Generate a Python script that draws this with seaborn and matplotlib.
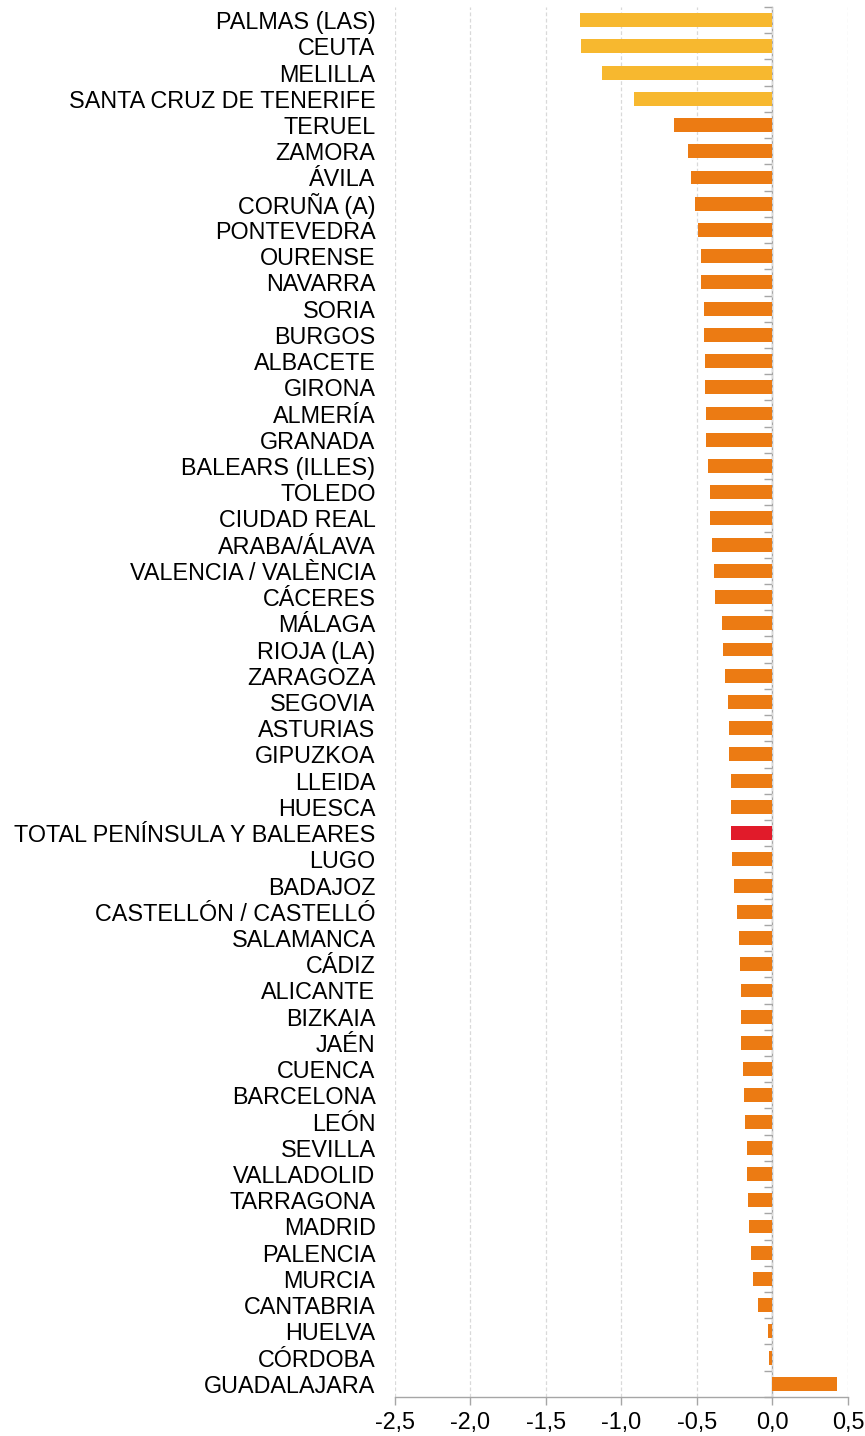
import pandas as pd
import matplotlib
matplotlib.use("Agg")
import matplotlib.pyplot as plt
import matplotlib.ticker as mticker
import seaborn as sns

provincias = [
    "PALMAS (LAS)", "CEUTA", "MELILLA", "SANTA CRUZ DE TENERIFE", "TERUEL",
    "ZAMORA", "ÁVILA", "CORUÑA (A)", "PONTEVEDRA", "OURENSE", "NAVARRA",
    "SORIA", "BURGOS", "ALBACETE", "GIRONA", "ALMERÍA", "GRANADA",
    "BALEARS (ILLES)", "TOLEDO", "CIUDAD REAL", "ARABA/ÁLAVA",
    "VALENCIA / VALÈNCIA", "CÁCERES", "MÁLAGA", "RIOJA (LA)", "ZARAGOZA",
    "SEGOVIA", "ASTURIAS", "GIPUZKOA", "LLEIDA", "HUESCA",
    "TOTAL PENÍNSULA Y BALEARES", "LUGO", "BADAJOZ", "CASTELLÓN / CASTELLÓ",
    "SALAMANCA", "CÁDIZ", "ALICANTE", "BIZKAIA", "JAÉN", "CUENCA",
    "BARCELONA", "LEÓN", "SEVILLA", "VALLADOLID", "TARRAGONA", "MADRID",
    "PALENCIA", "MURCIA", "CANTABRIA", "HUELVA", "CÓRDOBA", "GUADALAJARA",
]

variacion = [
    -1.275, -1.268, -1.129, -0.916, -0.651,
    -0.560, -0.540, -0.511, -0.494, -0.474, -0.474,
    -0.456, -0.456, -0.450, -0.450, -0.437, -0.437,
    -0.426, -0.413, -0.413, -0.400,
    -0.388, -0.379, -0.335, -0.326, -0.311,
    -0.293, -0.287, -0.287, -0.274, -0.276,
    -0.274, -0.265, -0.258, -0.234,
    -0.221, -0.214, -0.210, -0.210, -0.206, -0.197,
    -0.186, -0.179, -0.168, -0.168, -0.161, -0.155,
    -0.144, -0.126, -0.095, -0.029, -0.022, 0.430,
]

extrapeninsular = ["PALMAS (LAS)", "CEUTA", "MELILLA", "SANTA CRUZ DE TENERIFE"]
total = "TOTAL PENÍNSULA Y BALEARES"

colores = {"extra": "#F7B82F", "pen": "#EC7B13", "total": "#E11B2A"}

grupo = []
for p in provincias:
    if p in extrapeninsular:
        grupo.append("extra")
    elif p == total:
        grupo.append("total")
    else:
        grupo.append("pen")

df = pd.DataFrame({"provincia": provincias, "valor": variacion, "grupo": grupo})

sns.set_style("white")
plt.rcParams["font.family"] = ["Liberation Sans", "DejaVu Sans"]
plt.rcParams["text.color"] = "black"
plt.rcParams["xtick.labelcolor"] = "black"
plt.rcParams["ytick.labelcolor"] = "black"

fig = plt.figure(figsize=(8.65, 14.36), dpi=100)
ax = fig.add_axes([0.4566, 0.0272, 0.5237, 0.9679])

sns.barplot(
    data=df, x="valor", y="provincia", hue="grupo", palette=colores,
    orient="h", dodge=False, width=0.53, linewidth=0, saturation=1,
    legend=False, ax=ax,
)

ax.set_xlim(-2.5, 0.5)
ax.set_xticks([-2.5, -2.0, -1.5, -1.0, -0.5, 0.0, 0.5])
ax.xaxis.set_major_formatter(
    mticker.FuncFormatter(lambda v, _: f"{v:.1f}".replace(".", ","))
)
ax.set_xlabel("")
ax.set_ylabel("")

ax.grid(axis="x", color="#d9d9d9", linestyle=(0, (3, 2)), linewidth=0.9)
ax.grid(axis="y", visible=False)
ax.set_axisbelow(True)

for s in ["top", "right", "left"]:
    ax.spines[s].set_visible(False)
ax.spines["bottom"].set_color("#a6a6a6")
ax.spines["bottom"].set_linewidth(1.0)

ax.tick_params(axis="x", direction="out", length=6, color="#a6a6a6",
               width=1.0, labelsize=16.8, labelcolor="black", pad=4,
               bottom=True)
ax.tick_params(axis="y", length=0, labelsize=16.8, labelcolor="black", pad=14)

# y axis line at zero with ticks between categories
sec = ax.secondary_yaxis(2.5 / 3.0)
sec.set_alignment("left")
sec.set_yticks([])
sec.set_yticks([i - 0.5 for i in range(len(provincias) + 1)], minor=True)
sec.tick_params(which="minor", direction="out", length=6, color="#a6a6a6",
                width=1.0, labelleft=False, left=True, right=False)
sec.spines["left"].set_color("#a6a6a6")
sec.spines["left"].set_linewidth(1.0)

fig.savefig("out.png", dpi=100)
